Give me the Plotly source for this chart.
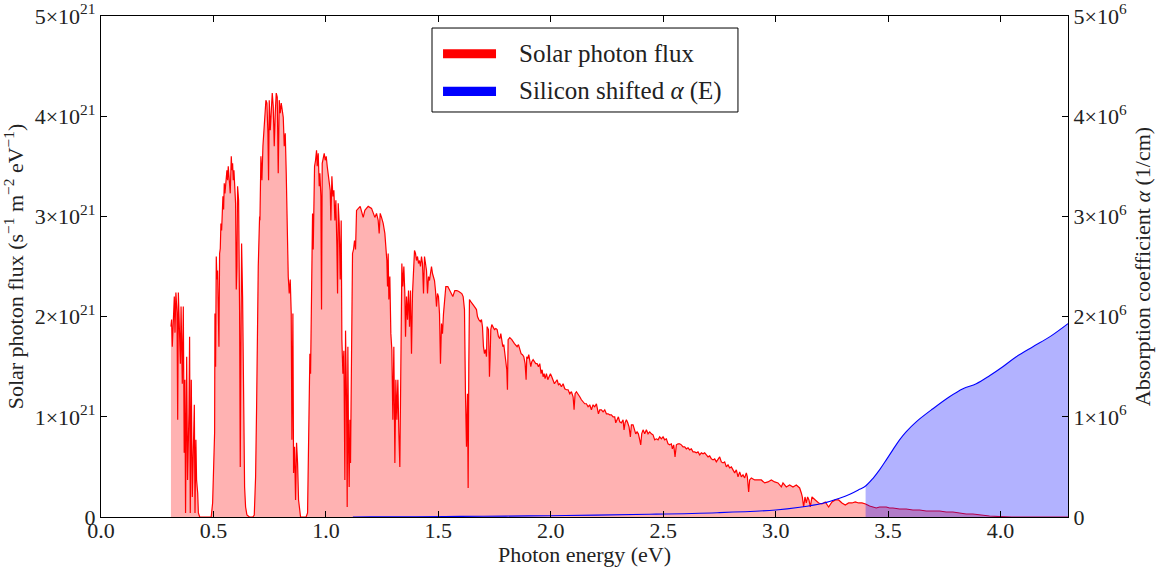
import plotly.graph_objects as go

# ---------------- Solar photon flux (units of 1e21 s^-1 m^-2 eV^-1) vs photon energy (eV) ----------------
band1 = [(0.311, 1.90), (0.314, 1.97), (0.317, 1.70), (0.3215, 1.90), (0.326, 2.20), (0.329, 1.84),
         (0.333, 2.24), (0.338, 2.04), (0.341, 0.97), (0.344, 2.24), (0.348, 1.84), (0.353, 1.53),
         (0.356, 2.10), (0.3615, 1.33), (0.366, 2.10), (0.370, 0.64), (0.373, 1.37), (0.376, 0.04),
         (0.381, 1.60), (0.385, 0.37), (0.391, 1.03), (0.394, 1.80), (0.397, 0.04), (0.4015, 1.37),
         (0.406, 0.20), (0.410, 0.84), (0.415, 1.12), (0.418, 0.04), (0.422, 0.77), (0.425, 0.37),
         (0.430, 0.24), (0.433, 0.04), (0.439, 0.0), (0.455, 0.0), (0.475, 0.0), (0.490, 0.0)]

band2 = [(0.4963, 0.14), (0.5007, 0.44), (0.5052, 0.84), (0.5067, 2.03), (0.5096, 1.50), (0.5126, 2.60),
         (0.5156, 2.37), (0.5185, 2.46), (0.5215, 2.07), (0.5244, 1.70), (0.5274, 2.63), (0.5304, 2.68),
         (0.5333, 2.93), (0.5363, 2.86), (0.5393, 3.03), (0.5422, 3.20), (0.5452, 3.07), (0.5481, 3.33),
         (0.5511, 3.23), (0.5556, 3.40), (0.5600, 3.46), (0.5630, 3.36), (0.5659, 3.50), (0.5704, 3.36),
         (0.5748, 3.23), (0.5793, 3.60), (0.5822, 3.46), (0.5852, 3.53), (0.5881, 3.36), (0.5911, 3.46),
         (0.5956, 3.23), (0.5985, 3.13), (0.6015, 2.27), (0.6044, 2.50), (0.6074, 3.30), (0.6119, 3.16),
         (0.6163, 2.03), (0.6193, 0.50), (0.6222, 1.70), (0.6252, 2.73), (0.6296, 2.20), (0.6341, 1.03),
         (0.6385, 0.30), (0.6430, 0.10), (0.6489, 0.02), (0.660, 0.0), (0.675, 0.0)]

band3 = [(0.6815, 0.02), (0.6874, 0.40), (0.6919, 1.10), (0.6948, 2.07), (0.6993, 2.50), (0.7052, 3.00),
         (0.7067, 2.96), (0.7111, 3.60), (0.7156, 3.36), (0.7200, 3.70), (0.7244, 3.90), (0.7289, 4.03),
         (0.7333, 4.16), (0.7378, 4.13), (0.7422, 3.83), (0.7452, 3.36), (0.7481, 4.16), (0.7526, 3.86),
         (0.7570, 4.10), (0.7615, 4.23), (0.7659, 4.10), (0.7704, 3.70), (0.7748, 4.03), (0.7793, 4.23),
         (0.7837, 4.19), (0.7881, 3.43), (0.7926, 4.16), (0.7970, 4.03), (0.8015, 4.13), (0.8059, 4.03),
         (0.8104, 3.99), (0.8148, 3.70), (0.8193, 3.83), (0.8237, 3.43), (0.8281, 2.70), (0.8326, 2.40),
         (0.8370, 2.23), (0.8415, 2.37), (0.8459, 2.03), (0.8489, 0.77), (0.8533, 2.03), (0.8563, 0.44),
         (0.8607, 0.70), (0.8652, 0.17), (0.8696, 0.74), (0.8741, 0.54), (0.8785, 0.17), (0.8830, 0.04),
         (0.8874, 0.0), (0.900, 0.0), (0.912, 0.0)]

band4 = [(0.9185, 0.04), (0.9230, 0.60), (0.9259, 1.07), (0.9289, 1.63), (0.9319, 1.43), (0.9348, 2.23),
         (0.9378, 2.70), (0.9407, 3.03), (0.9437, 2.67), (0.9467, 3.36), (0.9496, 3.50), (0.9541, 3.56),
         (0.9585, 3.66), (0.9615, 3.50), (0.9659, 3.63), (0.9704, 3.30), (0.9733, 3.43), (0.9778, 3.20),
         (0.9807, 2.07), (0.9837, 3.53), (0.9881, 3.60), (0.9926, 3.63), (0.9970, 3.56), (1.0015, 3.60),
         (1.0059, 3.50), (1.0104, 3.43), (1.0148, 3.36), (1.0193, 3.26), (1.0222, 2.96), (1.0267, 3.40),
         (1.0311, 3.20), (1.0356, 3.26), (1.0400, 2.96), (1.0444, 3.16), (1.0489, 2.70), (1.0519, 2.23),
         (1.0548, 3.13), (1.0593, 2.93), (1.0637, 2.37), (1.0681, 2.96), (1.0711, 1.77), (1.0756, 1.43),
         (1.0800, 1.66), (1.0844, 0.37), (1.0874, 1.86), (1.0919, 1.16), (1.0948, 0.10), (1.0978, 1.70),
         (1.1007, 0.70), (1.1037, 0.30), (1.1067, 0.97), (1.1096, 0.54), (1.1141, 1.63), (1.1185, 2.63),
         (1.1230, 2.67), (1.1274, 2.76), (1.1319, 2.67), (1.1363, 3.06)]

band5 = [(1.1526, 3.10), (1.1659, 2.99), (1.1733, 3.06), (1.1881, 3.10), (1.2030, 3.08), (1.2104, 3.03),
         (1.2178, 2.99), (1.2252, 3.03), (1.2326, 2.96), (1.2370, 2.83), (1.2415, 3.03), (1.2474, 2.99),
         (1.2548, 2.93), (1.2622, 2.83), (1.2667, 2.66), (1.2711, 2.56), (1.2741, 2.30), (1.2770, 2.63),
         (1.2800, 2.17), (1.2844, 2.40), (1.2889, 1.83), (1.2933, 1.67), (1.2978, 0.97), (1.3022, 1.70),
         (1.3067, 0.54), (1.3111, 1.37), (1.3156, 0.97), (1.3200, 1.37), (1.3244, 0.84), (1.3289, 0.50),
         (1.3333, 1.50), (1.3378, 2.53), (1.3422, 2.30), (1.3467, 2.50), (1.3511, 2.23), (1.3541, 1.80),
         (1.3585, 2.20), (1.3630, 1.97), (1.3674, 2.26), (1.3719, 1.90), (1.3763, 2.26), (1.3807, 1.63),
         (1.3852, 2.23), (1.3896, 2.53), (1.3941, 2.66), (1.3985, 2.63), (1.4030, 2.56), (1.4074, 2.60),
         (1.4119, 2.53), (1.4163, 2.56), (1.4207, 2.50), (1.4252, 2.60), (1.4296, 2.53), (1.4341, 2.23),
         (1.4385, 2.60), (1.4430, 2.53), (1.4474, 2.46), (1.4519, 2.23), (1.4563, 2.40), (1.4607, 2.36),
         (1.4652, 2.46), (1.4696, 2.50), (1.4741, 2.43), (1.4785, 2.40), (1.4830, 2.36), (1.4874, 2.26),
         (1.4919, 2.10), (1.4963, 2.23), (1.5007, 2.20), (1.5052, 2.03), (1.5096, 1.53), (1.5141, 1.93),
         (1.5185, 1.83), (1.5230, 2.03), (1.5289, 2.23), (1.5333, 2.30), (1.5422, 2.30), (1.5511, 2.26),
         (1.5600, 2.21), (1.5644, 2.20), (1.5733, 2.26), (1.5822, 2.26), (1.5911, 2.25)]

band6 = [(1.6044, 2.23), (1.6104, 2.20), (1.6163, 2.07), (1.6207, 1.23), (1.6252, 0.70), (1.6296, 1.23),
         (1.6326, 0.29), (1.6356, 1.53), (1.6385, 2.17), (1.6444, 2.15), (1.6519, 2.12), (1.6607, 2.10),
         (1.6696, 2.07), (1.6741, 2.00), (1.6800, 1.97), (1.6874, 1.95), (1.6919, 1.97), (1.6963, 1.90),
         (1.7007, 1.70), (1.7052, 1.63), (1.7096, 1.67), (1.7141, 1.60), (1.7170, 1.90), (1.7230, 1.87),
         (1.7259, 1.60), (1.7274, 1.40), (1.7304, 1.60), (1.7333, 1.87), (1.7378, 1.92), (1.7437, 1.90),
         (1.7496, 1.87), (1.7556, 1.88), (1.7615, 1.87), (1.7674, 1.80), (1.7733, 1.78), (1.7778, 1.83),
         (1.7822, 1.73), (1.7867, 1.70), (1.7911, 1.72), (1.7956, 1.63), (1.8000, 1.57), (1.8044, 1.47),
         (1.8074, 1.27), (1.8104, 1.77), (1.8178, 1.79), (1.8267, 1.77), (1.8385, 1.73), (1.8504, 1.70),
         (1.8563, 1.72), (1.8622, 1.68), (1.8681, 1.63), (1.8741, 1.62), (1.8800, 1.60), (1.8859, 1.53),
         (1.8904, 1.37), (1.8933, 1.60), (1.8978, 1.58), (1.9022, 1.62), (1.9067, 1.53), (1.9111, 1.50),
         (1.9156, 1.55), (1.9215, 1.57), (1.9274, 1.55), (1.9333, 1.53), (1.9393, 1.53), (1.9452, 1.50),
         (1.9511, 1.53), (1.9570, 1.43), (1.9615, 1.47), (1.9659, 1.40), (1.9704, 1.43), (1.9748, 1.38),
         (1.9807, 1.43), (1.9867, 1.37), (1.9926, 1.40), (1.9985, 1.43), (2.0044, 1.40), (2.0104, 1.37),
         (2.0163, 1.33), (2.0222, 1.35), (2.0281, 1.37), (2.0341, 1.32), (2.0400, 1.33), (2.0474, 1.30),
         (2.0548, 1.33), (2.0622, 1.28), (2.0696, 1.27), (2.0770, 1.27), (2.0844, 1.23), (2.0919, 1.25),
         (2.0993, 1.20), (2.1037, 1.07), (2.1081, 1.23), (2.1141, 1.25), (2.1215, 1.23), (2.1289, 1.20),
         (2.1363, 1.17), (2.1437, 1.15), (2.1511, 1.13), (2.1585, 1.13), (2.1659, 1.10), (2.1733, 1.12),
         (2.1807, 1.07), (2.1881, 1.12), (2.1956, 1.10), (2.2030, 1.13), (2.2074, 1.07), (2.2119, 1.03),
         (2.2178, 1.07), (2.2252, 1.07), (2.2326, 1.05), (2.2400, 1.07), (2.2474, 1.03), (2.2548, 1.03),
         (2.2622, 1.02), (2.2696, 1.02), (2.2770, 1.00), (2.2844, 1.00), (2.2889, 0.94), (2.2948, 0.97),
         (2.3007, 1.00), (2.3067, 0.95), (2.3141, 0.94), (2.3215, 0.97), (2.3259, 0.87), (2.3304, 0.94),
         (2.3363, 0.97), (2.3422, 0.94), (2.3481, 0.90), (2.3541, 0.80), (2.3585, 0.92), (2.3659, 0.92),
         (2.3719, 0.87), (2.3778, 0.83), (2.3837, 0.85), (2.3896, 0.83), (2.3956, 0.77), (2.4000, 0.72),
         (2.4044, 0.83), (2.4104, 0.87), (2.4178, 0.83), (2.4252, 0.87), (2.4326, 0.83), (2.4400, 0.85),
         (2.4474, 0.83), (2.4548, 0.82), (2.4622, 0.77), (2.4696, 0.78), (2.4770, 0.77)]

band7 = [(2.4844, 0.80), (2.4919, 0.78), (2.4993, 0.80), (2.5067, 0.77), (2.5141, 0.78), (2.5215, 0.73),
         (2.5289, 0.72), (2.5363, 0.73), (2.5407, 0.68), (2.5467, 0.72), (2.5526, 0.60), (2.5585, 0.72),
         (2.5659, 0.73), (2.5733, 0.73), (2.5807, 0.72), (2.5881, 0.70), (2.5956, 0.70), (2.6030, 0.68),
         (2.6104, 0.69), (2.6178, 0.67), (2.6252, 0.68), (2.6326, 0.65), (2.6400, 0.65), (2.6474, 0.64),
         (2.6548, 0.65), (2.6622, 0.62), (2.6696, 0.64), (2.6770, 0.63), (2.6844, 0.64), (2.6919, 0.62),
         (2.6993, 0.60), (2.7067, 0.61), (2.7141, 0.58), (2.7215, 0.57), (2.7289, 0.58), (2.7363, 0.55),
         (2.7437, 0.58), (2.7511, 0.60), (2.7585, 0.55), (2.7659, 0.54), (2.7733, 0.55), (2.7807, 0.50),
         (2.7881, 0.52), (2.7956, 0.49), (2.8030, 0.50), (2.8104, 0.47), (2.8178, 0.44), (2.8252, 0.47),
         (2.8326, 0.40), (2.8400, 0.45), (2.8474, 0.40), (2.8548, 0.42), (2.8622, 0.39), (2.8696, 0.44),
         (2.8741, 0.40), (2.8800, 0.25), (2.8844, 0.37), (2.8919, 0.39), (2.9067, 0.37), (2.9215, 0.37),
         (2.9363, 0.37), (2.9511, 0.34), (2.9659, 0.35), (2.9807, 0.37), (2.9956, 0.35), (3.0104, 0.34),
         (3.0252, 0.30), (3.0326, 0.34), (3.0474, 0.30), (3.0622, 0.32), (3.0770, 0.30), (3.0919, 0.32),
         (3.1067, 0.29), (3.1141, 0.24), (3.1185, 0.20), (3.1244, 0.10), (3.1304, 0.20), (3.1363, 0.14),
         (3.1422, 0.20), (3.1481, 0.17), (3.1541, 0.10), (3.1615, 0.20), (3.1763, 0.17), (3.1911, 0.14),
         (3.2059, 0.13), (3.2207, 0.15), (3.2356, 0.10), (3.2504, 0.15), (3.2652, 0.17), (3.2800, 0.17),
         (3.2948, 0.14), (3.3096, 0.12), (3.3244, 0.14), (3.3393, 0.14), (3.3541, 0.15), (3.3689, 0.14),
         (3.3837, 0.14), (3.4000, 0.13), (3.4178, 0.11), (3.4326, 0.10), (3.4474, 0.09), (3.4622, 0.10),
         (3.4770, 0.10), (3.4919, 0.10), (3.5067, 0.09), (3.5215, 0.09), (3.5511, 0.08), (3.5807, 0.08),
         (3.6104, 0.07), (3.6400, 0.07), (3.6696, 0.06), (3.6993, 0.06), (3.7289, 0.06), (3.7585, 0.05),
         (3.7881, 0.05), (3.8178, 0.04), (3.8474, 0.03), (3.8770, 0.03), (3.9067, 0.02), (3.9511, 0.01),
         (3.9956, 0.005), (4.05, 0.0), (4.30, 0.0)]

# ---------------- Silicon shifted absorption coefficient (units of 1e6 1/cm) ----------------
alpha_energy = [1.12, 1.20, 1.40, 1.60, 1.80, 2.00, 2.20, 2.44, 2.74, 3.00, 3.107, 3.21, 3.284, 3.33,
                3.373, 3.40, 3.433, 3.462, 3.492, 3.521, 3.551, 3.58, 3.625, 3.699, 3.773, 3.833,
                3.892, 3.951, 4.01, 4.07, 4.144, 4.22, 4.30]
alpha_1e6 = [0.0, 0.001, 0.003, 0.006, 0.009, 0.013, 0.019, 0.027, 0.043, 0.07, 0.097, 0.137, 0.187,
             0.227, 0.276, 0.31, 0.386, 0.47, 0.57, 0.67, 0.77, 0.85, 0.95, 1.08, 1.20, 1.28,
             1.33, 1.41, 1.50, 1.60, 1.70, 1.80, 1.93]
alpha_fill_start = 3.40

x_ticks = [0.0, 0.5, 1.0, 1.5, 2.0, 2.5, 3.0, 3.5, 4.0]
y_ticks = [0, 1, 2, 3, 4, 5]
y_ticktext = ["0"] + [f"{v}\u00d710<sup>21</sup>" for v in y_ticks[1:]]
y2_ticktext = ["0"] + [f"{v}\u00d710<sup>6</sup>" for v in y_ticks[1:]]

# ---------------- Build series ----------------
spectrum = band1 + band2 + band3 + band4 + band5 + band6 + band7
energy = [p[0] for p in spectrum]
flux = [p[1] * 1e21 for p in spectrum]
alpha = [a * 1e6 for a in alpha_1e6]
fill_e = [e for e in alpha_energy if e >= alpha_fill_start]
fill_a = [a for e, a in zip(alpha_energy, alpha) if e >= alpha_fill_start]

FONT = "Liberation Serif, Times New Roman, serif"

fig = go.Figure()
fig.add_trace(go.Scatter(x=energy, y=flux, mode="lines", line=dict(color="red", width=1.2),
                         fill="tozeroy", fillcolor="rgba(255,0,0,0.3)", name="Solar photon flux",
                         yaxis="y", showlegend=False))
fig.add_trace(go.Scatter(x=fill_e, y=fill_a, mode="lines", line=dict(width=0, shape="spline"),
                         fill="tozeroy", fillcolor="rgba(0,0,255,0.3)", yaxis="y2", showlegend=False))
fig.add_trace(go.Scatter(x=alpha_energy, y=alpha, mode="lines", line=dict(color="blue", width=1.1, shape="spline"),
                         name="Silicon shifted alpha (E)", yaxis="y2", showlegend=False))

axis_common = dict(showgrid=False, zeroline=False, showline=True, linecolor="black", linewidth=1.2,
                   ticks="inside", ticklen=6, tickcolor="black", automargin=False,
                   tickfont=dict(family=FONT, size=22, color="#222"))

fig.update_layout(
    width=1164, height=572,
    margin=dict(l=101, r=96, t=16, b=55),
    paper_bgcolor="white", plot_bgcolor="white",
    font=dict(family=FONT, color="#222"),
    xaxis=dict(range=[0, 4.3], tickvals=x_ticks, ticktext=[f"{v:.1f}" for v in x_ticks], mirror="ticks",
               ticklabelstandoff=-7,
               title=dict(text="Photon energy (eV)", font=dict(family=FONT, size=22), standoff=2),
               **axis_common),
    yaxis=dict(range=[0, 5e21], tickvals=[v * 1e21 for v in y_ticks], ticktext=y_ticktext, mirror=True,
               title=dict(text="Solar photon flux (s<sup>\u22121</sup> m<sup>\u22122</sup> eV<sup>\u22121</sup>)",
                          font=dict(family=FONT, size=22), standoff=8),
               **axis_common),
    yaxis2=dict(range=[0, 5e6], overlaying="y", side="right", tickvals=[v * 1e6 for v in y_ticks],
                ticktext=y2_ticktext,
                title=dict(text="Absorption coefficient <i>\u03b1</i> (1/cm)", font=dict(family=FONT, size=22), standoff=8),
                **axis_common),
    showlegend=False,
)

# manual legend (matplotlib style)
fig.add_shape(type="rect", xref="paper", yref="paper", x0=0.3423, x1=0.6587, y0=0.8084, y1=0.976,
              line=dict(color="black", width=1), fillcolor="white", layer="above")
fig.add_shape(type="rect", xref="paper", yref="paper", x0=0.3537, x1=0.4085, y0=0.9156, y1=0.9335,
              line=dict(width=0), fillcolor="red", layer="above")
fig.add_shape(type="rect", xref="paper", yref="paper", x0=0.3537, x1=0.4085, y0=0.8403, y1=0.8589,
              line=dict(width=0), fillcolor="blue", layer="above")
fig.add_annotation(xref="paper", yref="paper", x=0.4302, y=0.9251, xanchor="left", yanchor="middle",
                   text="Solar photon flux", showarrow=False, font=dict(family=FONT, size=25, color="#222"))
fig.add_annotation(xref="paper", yref="paper", x=0.4302, y=0.8503, xanchor="left", yanchor="middle",
                   text="Silicon shifted <i>\u03b1</i> (E)", showarrow=False, font=dict(family=FONT, size=25, color="#222"))

fig.write_html("out.html")
